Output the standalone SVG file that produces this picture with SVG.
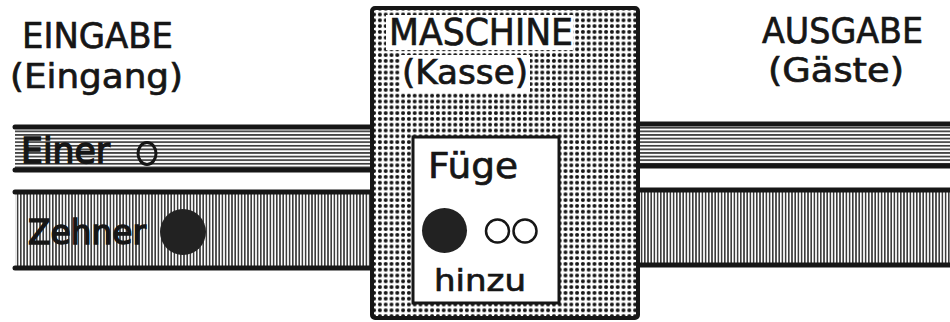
<svg xmlns="http://www.w3.org/2000/svg" width="950" height="322" viewBox="0 0 950 322">
  <style>
    .t { font-family: "DejaVu Sans", "Liberation Sans", sans-serif; fill: #161616; stroke: #161616; stroke-width: 0.7; }
    .lbl { stroke-width: 1.4; }
    .edge { stroke: #161616; stroke-width: 5; stroke-linecap: round; fill: none; }
    .hz { fill: url(#hlines); }
    .vt { fill: url(#vlines); }
  </style>
  <defs>
    <pattern id="hlines" patternUnits="userSpaceOnUse" width="10" height="3.6">
      <rect width="10" height="3.6" fill="#fff"/>
      <rect y="1" width="10" height="1.5" fill="#222"/>
    </pattern>
    <pattern id="vlines" patternUnits="userSpaceOnUse" width="3.2" height="10">
      <rect width="3.2" height="10" fill="#fff"/>
      <rect x="0.9" width="1.4" height="10" fill="#222"/>
    </pattern>
    <pattern id="dots" patternUnits="userSpaceOnUse" width="5.8" height="5.8">
      <rect width="5.8" height="5.8" fill="#fff"/>
      <circle cx="2.9" cy="2.9" r="2.0" fill="#161616"/>
    </pattern>
  </defs>

  <g id="connectors">
    <g id="input-einer">
      <rect class="hz" x="15" y="127" width="360" height="43"/>
      <line class="edge" x1="15" y1="127" x2="375" y2="127"/>
      <line class="edge" x1="15" y1="170" x2="375" y2="170"/>
    </g>
    <g id="input-zehner">
      <rect class="vt" x="15" y="192" width="360" height="76"/>
      <line class="edge" x1="15" y1="192" x2="375" y2="192"/>
      <line class="edge" x1="15" y1="268" x2="375" y2="268"/>
    </g>
    <g id="output-einer">
      <rect class="hz" x="635" y="124" width="320" height="42"/>
      <line class="edge" x1="635" y1="124" x2="955" y2="124"/>
      <line class="edge" x1="635" y1="166" x2="955" y2="166"/>
    </g>
    <g id="output-zehner">
      <rect class="vt" x="635" y="190" width="320" height="75"/>
      <line class="edge" x1="635" y1="190" x2="955" y2="190"/>
      <line class="edge" x1="635" y1="265" x2="955" y2="265"/>
    </g>
  </g>

  <g id="eingabe">
    <text class="t" x="22" y="48" font-size="36" textLength="151" lengthAdjust="spacingAndGlyphs">EINGABE</text>
    <text class="t" x="10" y="88" font-size="34" textLength="173" lengthAdjust="spacingAndGlyphs">(Eingang)</text>
  </g>

  <g id="einer-label">
    <text class="t lbl" x="21" y="163" font-size="35" textLength="89" lengthAdjust="spacingAndGlyphs">Einer</text>
    <ellipse cx="147" cy="153.5" rx="9" ry="11" fill="none" stroke="#161616" stroke-width="3"/>
  </g>

  <g id="zehner-label">
    <text class="t lbl" x="28" y="244" font-size="34" textLength="118" lengthAdjust="spacingAndGlyphs">Zehner</text>
    <circle cx="183" cy="232" r="23" fill="#222"/>
  </g>

  <g id="maschine">
    <rect x="372" y="8" width="266" height="310" rx="3" fill="url(#dots)" stroke="#161616" stroke-width="4"/>
    <rect x="386" y="15" width="187" height="35" fill="#fff"/>
    <rect x="400" y="55" width="130" height="38" fill="#fff"/>
    <text class="t" x="389" y="45" font-size="37" textLength="184" lengthAdjust="spacingAndGlyphs">MASCHINE</text>
    <text class="t" x="402" y="84" font-size="34" textLength="126" lengthAdjust="spacingAndGlyphs">(Kasse)</text>
    <g id="fuege-hinzu">
      <rect x="413" y="137" width="146" height="166" fill="#fff" stroke="#161616" stroke-width="3"/>
      <text class="t" x="428" y="178" font-size="36" textLength="90" lengthAdjust="spacingAndGlyphs">Füge</text>
      <circle cx="444.5" cy="230.5" r="22.5" fill="#222"/>
      <circle cx="497.5" cy="231" r="11.5" fill="none" stroke="#161616" stroke-width="2.5"/>
      <circle cx="525" cy="231" r="11.5" fill="none" stroke="#161616" stroke-width="2.5"/>
      <text class="t" x="434" y="291" font-size="30" textLength="92" lengthAdjust="spacingAndGlyphs">hinzu</text>
    </g>
  </g>

  <g id="ausgabe">
    <text class="t" x="762" y="43" font-size="36" textLength="161" lengthAdjust="spacingAndGlyphs">AUSGABE</text>
    <text class="t" x="768" y="82" font-size="34" textLength="136" lengthAdjust="spacingAndGlyphs">(Gäste)</text>
  </g>
</svg>
